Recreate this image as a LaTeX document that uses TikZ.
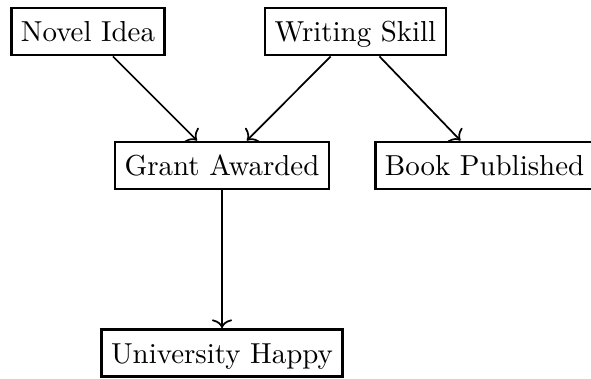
\documentclass[tikz,border=0pt]{standalone}
\usetikzlibrary{arrows.meta}
\tikzset{
  box/.style={draw, line width=0.9pt, rectangle, inner xsep=3.33pt, inner ysep=3.33pt,
    text height=8.4pt, text depth=1.3pt},
  link/.style={line width=0.6pt, -{To[length=3pt,width=7pt]}}
}
\begin{document}
\begin{tikzpicture}[x=0.346pt, y=-0.346pt]
  \useasboundingbox (0,0) rectangle (591,378);
  \node[box] (idea)  at (88,31.5)   {Novel Idea};
  \node[box] (skill) at (355.5,31.5) {Writing Skill};
  \node[box] (grant) at (222,165.5) {Grant Awarded};
  \node[box] (book)  at (484.5,165.5) {Book Published};
  \node[box] (happy) at (222,353) {University Happy};
  \draw[link] (idea) -- (grant);
  \draw[link] (skill) -- (grant);
  \draw[link] (skill) -- (book);
  \draw[link] (grant) -- (happy);
\end{tikzpicture}
\end{document}
